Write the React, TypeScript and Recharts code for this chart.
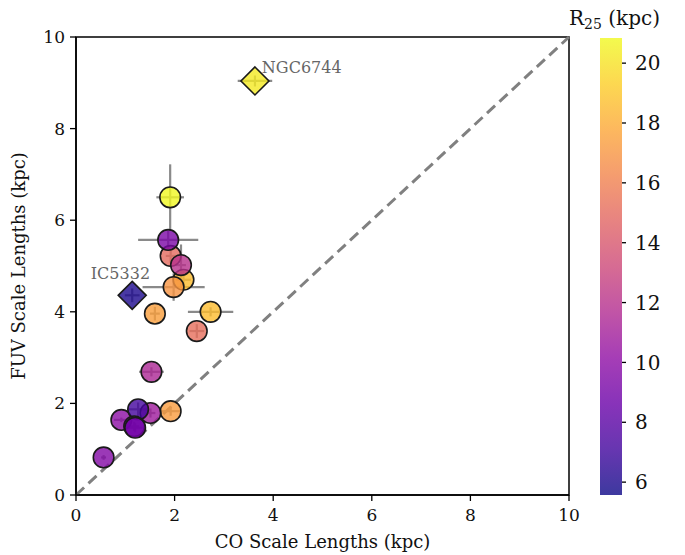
import React from 'react';
import {
  ScatterChart, Scatter, XAxis, YAxis, ErrorBar, ReferenceLine, ReferenceArea,
  ComposedChart,
} from 'recharts';

// ---- data ----
const circleCO = [1.92, 2.18, 2.13, 1.98, 1.87, 1.91, 1.60, 2.73, 2.45, 1.53, 1.92, 1.51, 0.92, 1.26, 1.18, 1.20, 0.56];
const circleFUV = [5.22, 4.70, 5.02, 4.54, 5.57, 6.50, 3.96, 4.00, 3.58, 2.69, 1.83, 1.79, 1.64, 1.87, 1.50, 1.47, 0.82];
const circleR25 = [15.0, 18.6, 12.0, 17.0, 9.3, 20.8, 17.4, 18.6, 15.2, 11.4, 17.3, 10.8, 10.0, 7.2, 8.8, 9.0, 9.6];
const circleXErr = [0.1, 0.15, 0.1, 0.63, 0.61, 0.28, 0.1, 0.46, 0.15, 0.25, 0.2, 0.1, 0.15, 0.2, 0.1, 0.15, 0.05];
const circleYErr = [0.15, 0.2, 0.45, 0.3, 0.2, 0.72, 0.15, 0.1, 0.15, 0.1, 0.1, 0.1, 0.05, 0.15, 0.1, 0.1, 0.05];

const diamondNames = ['NGC6744', 'IC5332'];
const diamondCO = [3.63, 1.14];
const diamondFUV = [9.04, 4.36];
const diamondR25 = [20.3, 6.0];
const diamondXErr = [0.35, 0.15];
const diamondYErr = [0.12, 0.15];

const labelX = [3.77, 0.30];
const labelY = [9.22, 4.72];

const axisTicks = [0, 2, 4, 6, 8, 10];
const cbarTicks = [6, 8, 10, 12, 14, 16, 18, 20];
const cbarMin = 5.57;
const cbarMax = 20.84;

// plasma colormap stops
const plasmaStops = [
  '#0d0887', '#41049d', '#6a00a8', '#8f0da4', '#b12a90', '#cc4778',
  '#e16462', '#f2844b', '#fca636', '#fcce25', '#f0f921',
];

function hexToRgb(h: string) {
  return [parseInt(h.slice(1, 3), 16), parseInt(h.slice(3, 5), 16), parseInt(h.slice(5, 7), 16)];
}
function plasma(t: number) {
  const tt = Math.max(0, Math.min(1, t)) * (plasmaStops.length - 1);
  const i = Math.min(plasmaStops.length - 2, Math.floor(tt));
  const f = tt - i;
  const a = hexToRgb(plasmaStops[i]);
  const b = hexToRgb(plasmaStops[i + 1]);
  const c = a.map((v, k) => Math.round(v + (b[k] - v) * f));
  return `rgb(${c[0]},${c[1]},${c[2]})`;
}
function colorFor(r: number) {
  return plasma((r - cbarMin) / (cbarMax - cbarMin));
}

const circles = circleCO.map((x, i) => ({
  x, y: circleFUV[i], r25: circleR25[i], xerr: circleXErr[i], yerr: circleYErr[i],
}));
const diamonds = diamondCO.map((x, i) => ({
  x, y: diamondFUV[i], r25: diamondR25[i], xerr: diamondXErr[i], yerr: diamondYErr[i], name: diamondNames[i],
}));
const labels = labelX.map((x, i) => ({ x, y: labelY[i], text: diamondNames[i] }));

const FONT = 'DejaVu Serif';

const CircleShape = (p: any) => (
  <circle cx={p.cx} cy={p.cy} r={10.3} fill={colorFor(p.payload.r25)} fillOpacity={0.8}
    stroke="#1a1a1a" strokeWidth={1.6} />
);
const DiamondShape = (p: any) => {
  const s = 14;
  const pts = `${p.cx},${p.cy - s} ${p.cx + s},${p.cy} ${p.cx},${p.cy + s} ${p.cx - s},${p.cy}`;
  return <polygon points={pts} fill={colorFor(p.payload.r25)} fillOpacity={0.8} stroke="#1a1a1a" strokeWidth={1.6} />;
};
const LabelShape = (p: any) => (
  <text x={p.cx} y={p.cy} fill="#666" fontSize={16} fontFamily={FONT}>{p.payload.text}</text>
);

export default function App() {
  return (
    <div style={{ position: 'absolute', left: 0, top: 0, width: 685, height: 555, background: '#fff' }}>
      <div style={{ position: 'absolute', left: 0, top: 0 }}>
        <ScatterChart width={685} height={555} margin={{ top: 37, right: 116, bottom: 0, left: 0 }}>
          <XAxis type="number" dataKey="x" domain={[0, 10]} ticks={axisTicks} allowDataOverflow
            height={60} stroke="#000" tickSize={6} tickMargin={8}
            axisLine={{ stroke: '#000', strokeWidth: 1.5 }} tickLine={{ stroke: '#000', strokeWidth: 1.3 }}
            tick={{ fontSize: 17, fontFamily: FONT, fill: '#111' }}
            label={{ value: 'CO Scale Lengths (kpc)', position: 'insideBottom', offset: 7, fontSize: 18, fontFamily: FONT, fill: '#111' }} />
          <YAxis type="number" dataKey="y" domain={[0, 10]} ticks={axisTicks} allowDataOverflow
            width={76} stroke="#000" tickSize={6} tickMargin={5}
            axisLine={{ stroke: '#000', strokeWidth: 1.5 }} tickLine={{ stroke: '#000', strokeWidth: 1.3 }}
            tick={{ fontSize: 17, fontFamily: FONT, fill: '#111' }}
            label={{ value: 'FUV Scale Lengths (kpc)', angle: -90, position: 'insideLeft', offset: 19, fontSize: 18, fontFamily: FONT, fill: '#111', style: { textAnchor: 'middle' } }} />
          <ReferenceLine segment={[{ x: 0, y: 0 }, { x: 10, y: 10 }]} stroke="#808080" strokeWidth={3} strokeDasharray="11 6" />
          <Scatter data={circles} shape={CircleShape} isAnimationActive={false}>
            <ErrorBar dataKey="xerr" direction="x" width={0} stroke="#8a8a8a" strokeWidth={2.2} />
            <ErrorBar dataKey="yerr" direction="y" width={0} stroke="#8a8a8a" strokeWidth={2.2} />
          </Scatter>
          <Scatter data={diamonds} shape={DiamondShape} isAnimationActive={false}>
            <ErrorBar dataKey="xerr" direction="x" width={0} stroke="#8a8a8a" strokeWidth={2.2} />
            <ErrorBar dataKey="yerr" direction="y" width={0} stroke="#8a8a8a" strokeWidth={2.2} />
          </Scatter>
          <Scatter data={labels} shape={LabelShape} isAnimationActive={false} />
          <ReferenceArea x1={0} x2={10} y1={0} y2={10} fill="none" stroke="#000" strokeWidth={1.5} ifOverflow="visible" />
        </ScatterChart>
      </div>
      <div style={{ position: 'absolute', left: 600, top: 0 }}>
        <ComposedChart width={85} height={555} margin={{ top: 38, right: 0, bottom: 60, left: 0 }} data={[{ x: 0.5, y: 10 }]}>
          <defs>
            <linearGradient id="plasmaGrad" x1="0" y1="1" x2="0" y2="0">
              {plasmaStops.map((c, i) => (
                <stop key={i} offset={`${(i / (plasmaStops.length - 1)) * 100}%`} stopColor={c} stopOpacity={0.8} />
              ))}
            </linearGradient>
          </defs>
          <XAxis type="number" dataKey="x" domain={[0, 1]} hide height={0} />
          <YAxis type="number" orientation="right" domain={[cbarMin, cbarMax]} ticks={cbarTicks} allowDataOverflow
            width={63} axisLine={false} tickSize={4} tickMargin={9}
            tickLine={{ stroke: '#000', strokeWidth: 1.3 }}
            tick={{ fontSize: 20, fontFamily: FONT, fill: '#111' }} />
          <ReferenceArea x1={0} x2={1} y1={cbarMin} y2={cbarMax} fill="url(#plasmaGrad)" fillOpacity={1} stroke="none" ifOverflow="visible" />
        </ComposedChart>
      </div>
      <svg style={{ position: 'absolute', left: 0, top: 0 }} width={685} height={34}>
        <text x={569} y={25} fontFamily={FONT} fontSize={20} fill="#111">
          R<tspan fontSize={14} dy={4}>25</tspan><tspan dy={-4}> (kpc)</tspan>
        </text>
      </svg>
    </div>
  );
}
